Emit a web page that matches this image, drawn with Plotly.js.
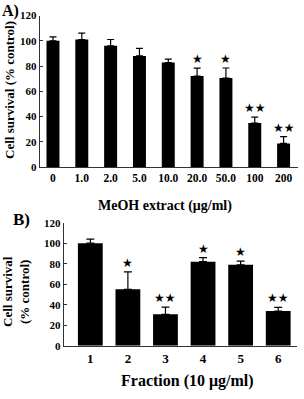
<!DOCTYPE html>
<html>
<head>
<meta charset="utf-8">
<script src="https://cdn.plot.ly/plotly-3.0.1.min.js"></script>
<style>html,body{margin:0;padding:0;background:#fff;}#chart{width:304px;height:399px;}</style>
</head>
<body>
<div id="chart"></div>
<script>
// Panel A: MeOH extract concentrations
var catsA = ['0', '1.0', '2.0', '5.0', '10.0', '20.0', '50.0', '100', '200'];
var valsA = [100, 101, 96, 88, 82.7, 72, 70.4, 34.8, 18.7];
var errA  = [3, 5, 5, 6, 2.7, 6.3, 8, 4.7, 5.3];
var sigA  = ['', '', '', '', '', '★', '★', '★★', '★★'];

// Panel B: fractions
var catsB = ['1', '2', '3', '4', '5', '6'];
var valsB = [100, 55, 30.6, 82, 79, 33.8];
var errB  = [4, 17, 7, 4, 3.5, 3.5];
var sigB  = ['', '★', '★★', '★', '★', '★★'];

var yTicks = [0, 20, 40, 60, 80, 100, 120];

var FONT = 'Liberation Serif, Times New Roman, serif';

var traces = [
  {
    type: 'bar', x: catsA, y: valsA, xaxis: 'x', yaxis: 'y',
    marker: {color: '#000'}, width: 0.45,
    error_y: {type: 'data', symmetric: false, array: errA, arrayminus: errA.map(function(){return 0;}),
              color: '#000', thickness: 1.2, width: 3.5},
    hoverinfo: 'none'
  },
  {
    type: 'bar', x: catsB, y: valsB, xaxis: 'x2', yaxis: 'y2',
    marker: {color: '#000'}, width: 0.66,
    error_y: {type: 'data', symmetric: false, array: errB, arrayminus: errB.map(function(){return 0;}),
              color: '#000', thickness: 1.2, width: 4},
    hoverinfo: 'none'
  }
];

var annotations = [];
// category index positions (numeric-looking labels would otherwise be read as indices)
catsA.forEach(function(c, i) {
  if (sigA[i]) annotations.push({x: i, y: valsA[i] + errA[i], xref: 'x', yref: 'y', text: sigA[i],
    showarrow: false, yanchor: 'bottom', yshift: 0, font: {family: 'DejaVu Sans', size: 12, color: '#000'}});
});
catsB.forEach(function(c, i) {
  if (sigB[i]) annotations.push({x: i, y: valsB[i] + errB[i], xref: 'x2', yref: 'y2', text: sigB[i],
    showarrow: false, yanchor: 'bottom', yshift: 0, font: {family: 'DejaVu Sans', size: 12, color: '#000'}});
});

annotations.push(
  {text: '<b>A)</b>', xref: 'paper', yref: 'paper', x: 0, y: 1.0, xanchor: 'left', yanchor: 'top',
   showarrow: false, font: {family: FONT, size: 16, color: '#000'}},
  {text: '<b>B)</b>', xref: 'paper', yref: 'paper', x: 0.035, y: (399 - 208) / 399, xanchor: 'left', yanchor: 'top',
   showarrow: false, font: {family: FONT, size: 17, color: '#000'}},
  {text: '<b>MeOH extract (μg/ml)</b>', xref: 'paper', yref: 'paper', x: 165 / 304, y: (399 - 206) / 399,
   xanchor: 'center', yanchor: 'middle', showarrow: false, font: {family: FONT, size: 14, color: '#000'}},
  {text: '<b>Cell survival (% control)</b>', xref: 'paper', yref: 'paper', x: 9 / 304, y: (399 - 90) / 399,
   xanchor: 'center', yanchor: 'middle', textangle: -90, showarrow: false, font: {family: FONT, size: 13, color: '#000'}},
  {text: '<b>Fraction (10 μg/ml)</b>', xref: 'paper', yref: 'paper', x: 187 / 304, y: (399 - 381) / 399,
   xanchor: 'center', yanchor: 'middle', showarrow: false, font: {family: FONT, size: 16, color: '#000'}},
  {text: '<b>Cell survival<br>(% control)</b>', xref: 'paper', yref: 'paper', x: 16 / 304, y: (399 - 292) / 399,
   xanchor: 'center', yanchor: 'middle', textangle: -90, showarrow: false, font: {family: FONT, size: 13, color: '#000'}}
);

var axisCommon = {
  showgrid: false, zeroline: false, showline: true, linecolor: '#333', linewidth: 1.2,
  tickfont: {family: FONT, size: 11, color: '#000'}, fixedrange: true
};

var layout = {
  width: 304, height: 399,
  margin: {l: 0, r: 0, t: 0, b: 0},
  paper_bgcolor: '#fff', plot_bgcolor: '#fff',
  showlegend: false,
  font: {family: FONT, color: '#000'},
  xaxis: Object.assign({}, axisCommon, {
    domain: [40 / 304, 298 / 304], anchor: 'y', type: 'category', range: [-0.45, 8.5],
    ticks: '', tickfont: {family: FONT, size: 11.5, color: '#000'}
  }),
  yaxis: Object.assign({}, axisCommon, {
    domain: [(399 - 167) / 399, (399 - 15.5) / 399], anchor: 'x', range: [0, 120],
    tickvals: yTicks, ticktext: yTicks.map(function(v){return '<b>' + v + '</b>';}),
    ticks: 'inside', ticklen: 3, tickcolor: '#333'
  }),
  xaxis2: Object.assign({}, axisCommon, {
    domain: [64 / 304, 297 / 304], anchor: 'y2', type: 'category', range: [-0.7, 5.5],
    ticks: '', tickfont: {family: FONT, size: 13, color: '#000'}
  }),
  yaxis2: Object.assign({}, axisCommon, {
    domain: [(399 - 345.7) / 399, (399 - 222.7) / 399], anchor: 'x2', range: [0, 120],
    tickvals: yTicks, ticktext: yTicks.map(function(v){return '<b>' + v + '</b>';}),
    ticks: 'inside', ticklen: 3, tickcolor: '#333'
  }),
  annotations: annotations
};

layout.xaxis.tickvals = catsA;
layout.xaxis.ticktext = catsA.map(function(c){return '<b>' + c + '</b>';});
layout.xaxis2.tickvals = catsB;
layout.xaxis2.ticktext = catsB.map(function(c){return '<b>' + c + '</b>';});

Plotly.newPlot('chart', traces, layout, {displayModeBar: false, staticPlot: true});
</script>
</body>
</html>
